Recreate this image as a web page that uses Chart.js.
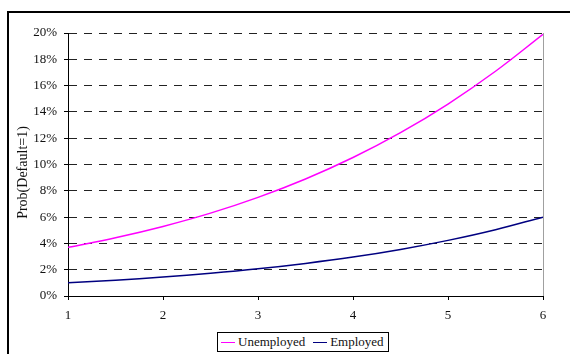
<!DOCTYPE html>
<html>
<head>
<meta charset="utf-8">
<script src="https://cdn.jsdelivr.net/npm/chart.js@4"></script>
<style>
  html, body { margin: 0; padding: 0; width: 570px; height: 354px; overflow: hidden; background: #fff; }
  #frame { position: absolute; left: 7px; top: 11px; width: 620px; height: 400px; border: 2px solid #000; box-sizing: border-box; }
  #wrap { position: absolute; left: 0; top: 0; width: 570px; height: 354px; }
  #legend { position: absolute; left: 217px; top: 332px; width: 172px; height: 20px; border: 1px solid #000; box-sizing: border-box;
            background: #fff; font: 13px "Liberation Serif", "Times New Roman", serif; color: #111; display: flex; align-items: center; }
  .item { display: flex; align-items: center; white-space: nowrap; }
  .swatch { display: inline-block; width: 14px; height: 0; border-top: 1.5px solid; margin: 0 3px 0 3px; }
</style>
</head>
<body>
<div id="frame"></div>
<div id="wrap"><canvas id="chart" width="570" height="354"></canvas></div>
<div id="legend"></div>
<script>
// Probability of default (%) against the explanatory variable, by employment status
const xValues    = [1, 1.5, 2, 2.5, 3, 3.5, 4, 4.5, 5, 5.5, 6];
const unemployed = [3.70, 4.43, 5.29, 6.30, 7.50, 8.90, 10.53, 12.42, 14.60, 17.09, 19.90];
const employed   = [1.00, 1.20, 1.44, 1.73, 2.07, 2.48, 2.96, 3.54, 4.23, 5.04, 6.00];
const seriesNames  = ['Unemployed', 'Employed'];
const seriesColors = ['#ff00ff', '#000080'];
const yTicks = [0, 2, 4, 6, 8, 10, 12, 14, 16, 18, 20];
const xTicks = [1, 2, 3, 4, 5, 6];
const yTitle = 'Prob(Default=1)';

const serif = '"Liberation Serif", "Times New Roman", serif';

const toPoints = (ys) => xValues.map((x, i) => ({ x: x, y: ys[i] }));

// gray right edge of the plot area and the rotated y-axis title
const plotFrame = {
  id: 'plotFrame',
  beforeDatasetsDraw(chart) {
    const { ctx, chartArea: a } = chart;
    ctx.save();
    ctx.strokeStyle = '#a0a0a0';
    ctx.lineWidth = 1;
    ctx.beginPath();
    ctx.moveTo(Math.round(a.right) + 0.5, a.top);
    ctx.lineTo(Math.round(a.right) + 0.5, a.bottom);
    ctx.stroke();
    ctx.restore();
  },
  afterDraw(chart) {
    const { ctx, chartArea: a } = chart;
    ctx.save();
    ctx.translate(23, (a.top + a.bottom) / 2 + 8);
    ctx.rotate(-Math.PI / 2);
    ctx.font = '14px ' + serif;
    ctx.fillStyle = '#111';
    ctx.textAlign = 'center';
    ctx.textBaseline = 'middle';
    ctx.fillText(yTitle, 0, 0);
    ctx.restore();
  }
};

new Chart(document.getElementById('chart'), {
  type: 'line',
  data: {
    datasets: [
      { label: seriesNames[0], data: toPoints(unemployed), borderColor: seriesColors[0], backgroundColor: seriesColors[0],
        borderWidth: 1.5, pointRadius: 0, tension: 0.4, fill: false },
      { label: seriesNames[1], data: toPoints(employed), borderColor: seriesColors[1], backgroundColor: seriesColors[1],
        borderWidth: 1.5, pointRadius: 0, tension: 0.4, fill: false }
    ]
  },
  options: {
    responsive: false,
    animation: false,
    events: [],
    layout: { padding: { left: 0, right: 27, top: 33, bottom: 0 } },
    plugins: { legend: { display: false }, tooltip: { enabled: false } },
    scales: {
      x: {
        type: 'linear', min: 1, max: 6,
        afterBuildTicks: (s) => { s.ticks = xTicks.map(v => ({ value: v })); },
        afterFit: (s) => { s.height = 58; },
        ticks: { padding: 8, color: '#111', font: { family: serif, size: 13 }, maxRotation: 0 },
        grid: { drawOnChartArea: false, drawTicks: true, tickLength: 4, tickColor: '#000', tickWidth: 1 },
        border: { display: true, color: '#000', width: 1 }
      },
      y: {
        min: 0, max: 20,
        afterBuildTicks: (s) => { s.ticks = yTicks.map(v => ({ value: v })); },
        afterFit: (s) => { s.width = 68; },
        ticks: { padding: 7, color: '#111', font: { family: serif, size: 13 }, callback: (v) => v + '%' },
        grid: { color: '#222', lineWidth: 1, drawTicks: true, tickLength: 4, tickColor: '#000', tickWidth: 1, tickBorderDash: [] },
        border: { display: true, color: '#000', width: 1, dash: [8, 7] }
      }
    }
  },
  plugins: [plotFrame]
});

// legend row
const legend = document.getElementById('legend');
seriesNames.forEach((name, i) => {
  const item = document.createElement('span');
  item.className = 'item';
  item.style.marginRight = i === 0 ? '5px' : '0';
  const sw = document.createElement('span');
  sw.className = 'swatch';
  sw.style.borderTopColor = seriesColors[i];
  item.appendChild(sw);
  item.appendChild(document.createTextNode(name));
  legend.appendChild(item);
});
</script>
</body>
</html>
